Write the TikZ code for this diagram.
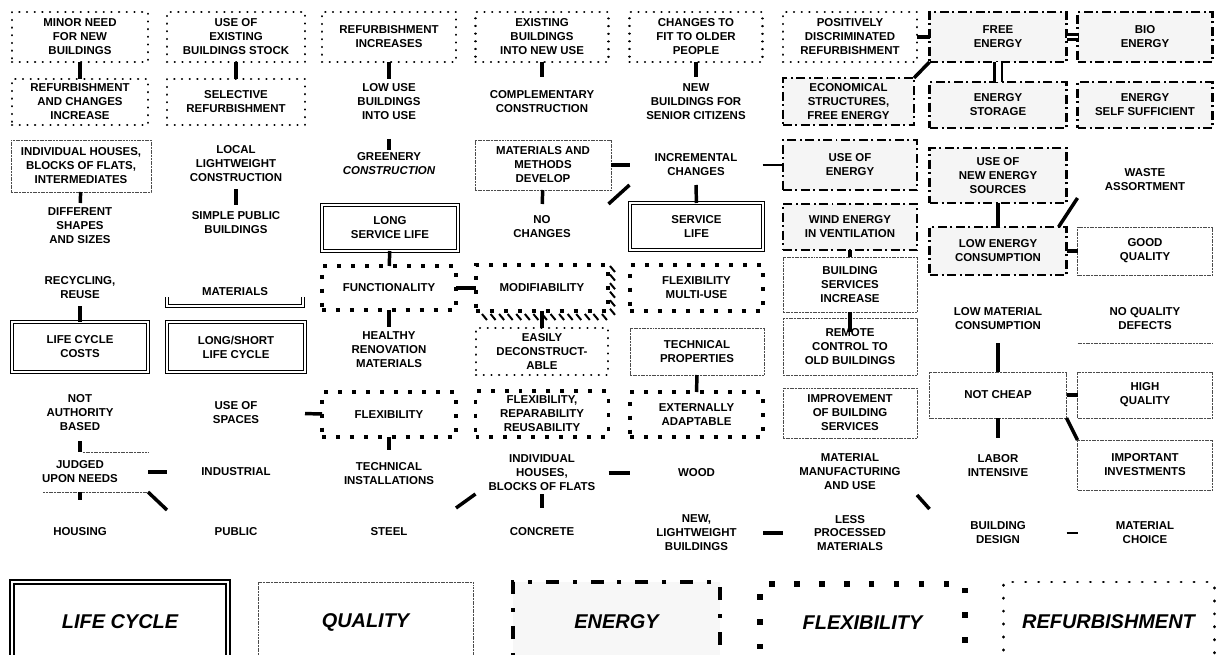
\documentclass[tikz,border=0pt]{standalone}
\usepackage{fontspec}
\setmainfont{Liberation Sans}
\begin{document}
\begin{tikzpicture}[x=1bp,y=-1bp,
  every node/.style={font=\bfseries\fontsize{11.5}{14}\selectfont, align=center, inner sep=1pt, outer sep=0pt},
  sz/.style 2 args={minimum width=#1bp, minimum height=#2bp},
  refb/.style={draw, line width=2.2pt, dash pattern=on 0.2pt off 7.5pt, line cap=round},
  enb/.style={draw, fill=black!4, line width=2.2pt, dash pattern=on 9pt off 3.5pt on 2pt off 3.5pt},
  flb/.style={draw, line width=4pt, dash pattern=on 4pt off 10pt},
  lcb/.style={draw, double, line width=1.2pt, double distance=2.4pt},
  qline/.style={draw=black!70, line width=0.8pt, dash pattern=on 2pt off 0.7pt},
  qub/.style={qline},
  link/.style={line width=3.5pt},
  thinlink/.style={line width=1.1pt},
  dbl/.style={double, line width=2.2pt, double distance=3pt},
  dblv/.style={double, line width=3pt, double distance=5pt},
  hatch/.style={line width=2pt},
  lgtext/.style={font=\bfseries\itshape\fontsize{20}{24}\selectfont}
]
\useasboundingbox (0,0) rectangle (1217,655);
\fill[white] (0,0) rectangle (1217,655);

% ---- row 1
\node[refb, sz={136}{50}] (n11) at (80,37) {MINOR NEED\\FOR NEW\\BUILDINGS};
\node[refb, sz={138}{50}] (n21) at (236,37) {USE OF\\EXISTING\\BUILDINGS STOCK};
\node[refb, sz={134}{50}] (n31) at (389,37) {REFURBISHMENT\\INCREASES};
\node[refb, sz={133}{50}] (n41) at (542,37) {EXISTING\\BUILDINGS\\INTO NEW USE};
\node[refb, sz={133}{50}] (n51) at (696,37) {CHANGES TO\\FIT TO OLDER\\PEOPLE};
\node[refb, sz={134}{50}] (n61) at (850,37) {POSITIVELY\\DISCRIMINATED\\REFURBISHMENT};
\node[enb, sz={137}{50}] (n71) at (998,37) {FREE\\ENERGY};
\node[enb, sz={135}{50}] (n81) at (1145,37) {BIO\\ENERGY};

% ---- row 2
\node[refb, sz={136}{46}] (n12) at (80,102) {REFURBISHMENT\\AND CHANGES\\INCREASE};
\node[refb, sz={138}{46}] (n22) at (236,102) {SELECTIVE\\REFURBISHMENT};
\node[sz={134}{46}] (n32) at (389,102) {LOW USE\\BUILDINGS\\INTO USE};
\node[sz={133}{50}] (n42) at (542,102) {COMPLEMENTARY\\CONSTRUCTION};
\node[sz={133}{50}] (n52) at (696,102) {NEW\\BUILDINGS FOR\\SENIOR CITIZENS};
\node[enb, sz={131}{47}] (n62) at (848.5,101.5) {ECONOMICAL\\STRUCTURES,\\FREE ENERGY};
\node[enb, sz={137}{46}] (n72) at (998,105) {ENERGY\\STORAGE};
\node[enb, sz={135}{46}] (n82) at (1145,105) {ENERGY\\SELF SUFFICIENT};

% ---- row 3
\node[qub, sz={140}{52}] (n13) at (81,166) {INDIVIDUAL HOUSES,\\BLOCKS OF FLATS,\\INTERMEDIATES};
\node[sz={138}{50}] (n23) at (236,164) {LOCAL\\LIGHTWEIGHT\\CONSTRUCTION};
\node[sz={134}{28}] (n33) at (389,164) {GREENERY\\{\itshape CONSTRUCTION}};
\node[qub, sz={136}{50}] (n43) at (543,165) {MATERIALS AND\\METHODS\\DEVELOP};
\node[sz={133}{40}] (n53) at (696,165) {INCREMENTAL\\CHANGES};
\node[enb, sz={134}{50}] (n63) at (850,165) {USE OF\\ENERGY};
\node[enb, sz={137}{55}] (n73) at (998,175.5) {USE OF\\NEW ENERGY\\SOURCES};
\node[sz={135}{36}] (n83) at (1145,180) {WASTE\\ASSORTMENT};

% ---- row 4
\node[sz={136}{46}] (n14) at (80,226) {DIFFERENT\\SHAPES\\AND SIZES};
\node[sz={138}{36}] (n24) at (236,223) {SIMPLE PUBLIC\\BUILDINGS};
\node[lcb, sz={136}{46}] (n34) at (390,228) {LONG\\SERVICE LIFE};
\node[sz={133}{46}] (n44) at (542,227) {NO\\CHANGES};
\node[lcb, sz={133}{47}] (n54) at (696.5,226.5) {SERVICE\\LIFE};
\node[enb, sz={134}{46}] (n64) at (850,227) {WIND ENERGY\\IN VENTILATION};
\node[enb, sz={137}{48}] (n74) at (998,251) {LOW ENERGY\\CONSUMPTION};
\node[qub, sz={135}{48}] (n84) at (1145,251) {GOOD\\QUALITY};

% ---- row 5
\node[sz={136}{36}] (n15) at (80,288) {RECYCLING,\\REUSE};
\node[sz={136}{28}] (n25) at (235,292) {MATERIALS};
\node[flb, sz={134}{44}] (n35) at (389,288) {FUNCTIONALITY};
\node[flb, sz={132}{46}] (n45) at (542,288) {MODIFIABILITY};
\node[flb, sz={133}{46}] (n55) at (696.5,288) {FLEXIBILITY\\MULTI-USE};
\node[qub, sz={134}{55}] (n65) at (850,284.5) {BUILDING\\SERVICES\\INCREASE};
\node[sz={137}{48}] (n75) at (998,319) {LOW MATERIAL\\CONSUMPTION};
\node[sz={135}{48}] (n85) at (1145,319) {NO QUALITY\\DEFECTS};

% ---- row 6
\node[lcb, sz={136}{50}] (n16) at (80,347) {LIFE CYCLE\\COSTS};
\node[lcb, sz={138}{50}] (n26) at (236,347) {LONG/SHORT\\LIFE CYCLE};
\node[sz={134}{46}] (n36) at (389,350) {HEALTHY\\RENOVATION\\MATERIALS};
\node[refb, sz={132}{47}] (n46) at (542,351.5) {EASILY\\DECONSTRUCT-\\ABLE};
\node[qub, sz={134}{47}] (n56) at (697,351.5) {TECHNICAL\\PROPERTIES};
\node[qub, sz={134}{57}] (n66) at (850,346.5) {REMOTE\\CONTROL TO\\OLD BUILDINGS};
\node[qub, sz={137}{46}] (n76) at (998,395) {NOT CHEAP};
\node[qub, sz={135}{46}] (n86) at (1145,395) {HIGH\\QUALITY};

% ---- row 7
\node[sz={136}{56}] (n17) at (80,413) {NOT\\AUTHORITY\\BASED};
\node[sz={138}{40}] (n27) at (236,413) {USE OF\\SPACES};
\node[flb, sz={134}{45}] (n37) at (389,414.5) {FLEXIBILITY};
\node[flb, sz={133}{46}] (n47) at (542,414) {FLEXIBILITY,\\REPARABILITY\\REUSABILITY};
\node[flb, sz={133}{45}] (n57) at (696.5,414.5) {EXTERNALLY\\ADAPTABLE};
\node[qub, sz={134}{50}] (n67) at (850,413) {IMPROVEMENT\\OF BUILDING\\SERVICES};
\node[sz={137}{56}] (n77) at (998,466) {LABOR\\INTENSIVE};
\node[qub, sz={135}{50}] (n87) at (1145,465) {IMPORTANT\\INVESTMENTS};

% ---- row 8
\node[sz={136}{40}] (n18) at (80,472) {JUDGED\\UPON NEEDS};
\node[sz={138}{30}] (n28) at (236,472) {INDUSTRIAL};
\node[sz={134}{48}] (n38) at (389,474) {TECHNICAL\\INSTALLATIONS};
\node[sz={133}{42}] (n48) at (542,473) {INDIVIDUAL\\HOUSES,\\BLOCKS OF FLATS};
\node[sz={133}{30}] (n58) at (696.5,473) {WOOD};
\node[sz={134}{46}] (n68) at (850,472) {MATERIAL\\MANUFACTURING\\AND USE};

% ---- row 9
\node[sz={136}{64}] (n19) at (80,532) {HOUSING};
\node[sz={138}{44}] (n29) at (236,532) {PUBLIC};
\node[sz={134}{48}] (n39) at (389,532) {STEEL};
\node[sz={133}{48}] (n49) at (542,532) {CONCRETE};
\node[sz={133}{46}] (n59) at (696.5,533) {NEW,\\LIGHTWEIGHT\\BUILDINGS};
\node[sz={134}{46}] (n69) at (850,533) {LESS\\PROCESSED\\MATERIALS};
\node[sz={137}{48}] (n79) at (998,533) {BUILDING\\DESIGN};
\node[sz={135}{48}] (n89) at (1145,533) {MATERIAL\\CHOICE};

% ---- partial outlines
\draw[lcb] ([yshift=9pt]n25.south west) -- (n25.south west) -- (n25.south east) -- ([yshift=9pt]n25.south east);
\draw[qline] ([xshift=3pt]n18.north) -- (n18.north east);
\draw[qline] ([xshift=-37pt]n18.south) -- (n18.south east);
\draw[qline] (n85.south west) -- (n85.south east);

% hatching along modifiability
\foreach \i [evaluate=\i as \dx using 6+8.6*\i] in {0,...,14}
  \draw[hatch] ([xshift=\dx pt, yshift=-3pt]n45.south west) -- ++(5,6);
\foreach \i [evaluate=\i as \dy using -1-8.6*\i] in {0,...,5}
  \draw[hatch] ([xshift=2pt, yshift=\dy pt]n45.north east) -- ++(5,6);

% ---- vertical connectors
\draw[link] (n11) -- (n12);
\draw[link] (n21) -- (n22);
\draw[link] (n31) -- (n32);
\draw[link, shorten <=14pt] (n32) -- (n33);
\draw[link] (n41) -- (n42);
\draw[link] (n51) -- (n52);
\draw[link] (n13) -- (n14);
\draw[link] (n23) -- (n24);
\draw[link] (n43) -- (n44);
\draw[link] (n53) -- (n54);
\draw[link] (n73) -- (n74);
\draw[link] (n15) -- (n16);
\draw[link] (n34) -- (n35);
\draw[link] (n64) -- (n65);
\draw[link] (n45) -- (n46);
\draw[link] (n35) -- (n36);
\draw[link, shorten >=-14pt] (n65) -- (n66);
\draw[link] (n75) -- (n76);
\draw[link] (n56) -- (n57);
\draw[link] (n37) -- (n38);
\draw[link] (n17) -- (n18);
\draw[link] (n18) -- (n19);
\draw[link] (n48) -- (n49);
\draw[link] (n76) -- (n77);
\draw[dblv] (n71) -- (n72);

% ---- horizontal connectors
\draw[link] (n61) -- (n71);
\draw[dbl] (n71) -- (n81);
\draw[link] (n43) -- (n53);
\draw[thinlink] (n53) -- (n63);
\draw[link] (n74) -- (n84);
\draw[link] (n35) -- (n45);
\draw[link] (n27) -- (n37);
\draw[link] (n18) -- (n28);
\draw[link] (n48) -- (n58);
\draw[link] (n59) -- (n69);
\draw[link, line width=2pt] (n79) -- (n89);
\draw[link] (n76) -- (n86);

% ---- diagonal connectors
\draw[link] (n62.north east) -- (n71.south west);
\draw[link] (n44.north east) -- (n53.south west);
\draw[link] ([xshift=-8pt]n74.north east) -- (n83.south west);
\draw[link] (n18.south east) -- (n29.north west);
\draw[link] (n39.north east) -- (n48.south west);
\draw[link] (n68.south east) -- (n79.north west);
\draw[link] (n76.south east) -- (n87.north west);

% ---- legend
\node[lcb, line width=2pt, double distance=3pt, sz={216}{80}, lgtext] (lgA) at (120,622) {LIFE CYCLE};
\node[qub, line width=1pt, sz={215}{80}, lgtext] (lgB) at (365.5,622) {QUALITY};
\node[enb, fill=black!3, line width=3.5pt, dash pattern=on 13pt off 14pt on 4pt off 14pt, sz={207}{80}, lgtext] (lgC) at (616.5,622) {ENERGY};
\node[flb, line width=5.5pt, dash pattern=on 5.5pt off 19.5pt, sz={205}{78}, lgtext] (lgD) at (862.5,623) {FLEXIBILITY};
\node[refb, line width=3pt, dash pattern=on 0.2pt off 12.8pt, sz={211}{80}, lgtext] (lgE) at (1108.5,622) {REFURBISHMENT};
\end{tikzpicture}
\end{document}
